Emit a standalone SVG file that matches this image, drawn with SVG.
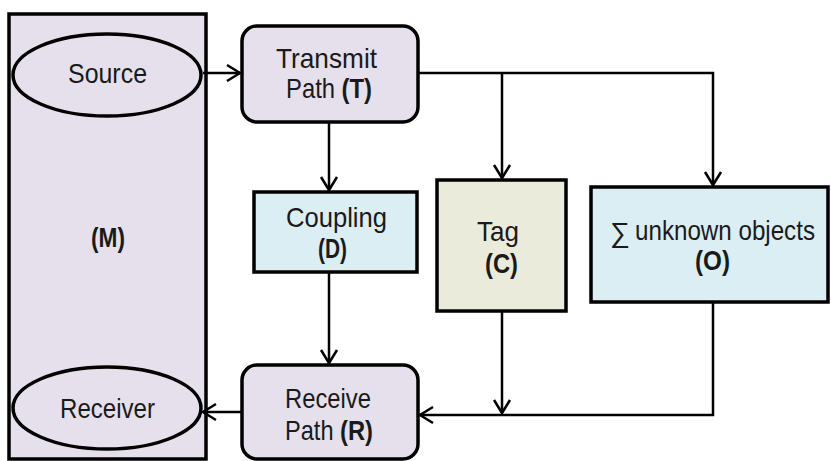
<svg xmlns="http://www.w3.org/2000/svg" width="831" height="461" viewBox="0 0 831 461">
<defs>
<style>
text{font-family:"Liberation Sans",Arial,Helvetica,sans-serif;font-size:28px;fill:#1a1a1a;text-anchor:middle}
.s{text-anchor:start}
.b{font-weight:bold}
.box{stroke:#000;stroke-width:3.5}
.lav{fill:#E5E0EC}
.blue{fill:#DBEEF4}
.tan{fill:#EBEBDC}
.conn{fill:none;stroke:#000;stroke-width:2.5}
</style>
<marker id="arr" markerUnits="userSpaceOnUse" markerWidth="20" markerHeight="20" refX="0" refY="0" viewBox="-16 -10 20 20" orient="auto" overflow="visible">
<path d="M-13,-8 L0,0 L-13,8" fill="none" stroke="#000" stroke-width="2.5"/>
</marker>
</defs>
<rect width="831" height="461" fill="#fff"/>
<g id="M">
<rect class="box lav" x="9" y="14" width="197" height="445"/>
<text class="b" x="108" y="247" textLength="34" lengthAdjust="spacingAndGlyphs">(M)</text>
</g>
<g id="source">
<ellipse class="box lav" cx="107" cy="75" rx="94" ry="41"/>
<text x="107.5" y="83" textLength="79" lengthAdjust="spacingAndGlyphs">Source</text>
</g>
<g id="receiver">
<ellipse class="box lav" cx="107" cy="408" rx="94" ry="41"/>
<text x="107.5" y="418" textLength="95" lengthAdjust="spacingAndGlyphs">Receiver</text>
</g>
<g id="T">
<rect class="box lav" x="242" y="26" width="176" height="96" rx="15"/>
<text x="326.5" y="68" textLength="101" lengthAdjust="spacingAndGlyphs">Transmit</text>
<text class="s" x="286" y="98" textLength="49" lengthAdjust="spacingAndGlyphs">Path</text>
<text class="s b" x="341.5" y="98" textLength="30.5" lengthAdjust="spacingAndGlyphs">(T)</text>
</g>
<g id="D">
<rect class="box blue" x="254" y="192" width="163" height="80"/>
<text x="336.5" y="227" textLength="101" lengthAdjust="spacingAndGlyphs">Coupling</text>
<text class="b" x="332.5" y="258" textLength="29" lengthAdjust="spacingAndGlyphs">(D)</text>
</g>
<g id="C">
<rect class="box tan" x="437" y="180" width="129" height="131"/>
<text x="498" y="241" textLength="42" lengthAdjust="spacingAndGlyphs">Tag</text>
<text class="b" x="501.5" y="273" textLength="33" lengthAdjust="spacingAndGlyphs">(C)</text>
</g>
<g id="O">
<rect class="box blue" x="591" y="187" width="237" height="115"/>
<text class="s" x="610" y="242" font-size="26">∑</text>
<text class="s" x="635" y="240" font-size="24.5" textLength="180" lengthAdjust="spacingAndGlyphs">unknown objects</text>
<text class="b" x="712.5" y="270" textLength="35" lengthAdjust="spacingAndGlyphs">(O)</text>
</g>
<g id="R">
<rect class="box lav" x="242" y="365" width="176" height="94" rx="15"/>
<text x="328" y="408" textLength="86" lengthAdjust="spacingAndGlyphs">Receive</text>
<text class="s" x="285" y="440" textLength="48.5" lengthAdjust="spacingAndGlyphs">Path</text>
<text class="s b" x="340" y="440" textLength="33" lengthAdjust="spacingAndGlyphs">(R)</text>
</g>
<g id="connectors">
<path class="conn" d="M203,73 H240" marker-end="url(#arr)"/>
<path class="conn" d="M329,122 V190" marker-end="url(#arr)"/>
<path class="conn" d="M418,73 H713 V185" marker-end="url(#arr)"/>
<path class="conn" d="M502,73 V178" marker-end="url(#arr)"/>
<path class="conn" d="M329,272 V363" marker-end="url(#arr)"/>
<path class="conn" d="M502,311 V413" marker-end="url(#arr)"/>
<path class="conn" d="M713,302 V415 H420" marker-end="url(#arr)"/>
<path class="conn" d="M242,412 H203" marker-end="url(#arr)"/>
</g>
</svg>
